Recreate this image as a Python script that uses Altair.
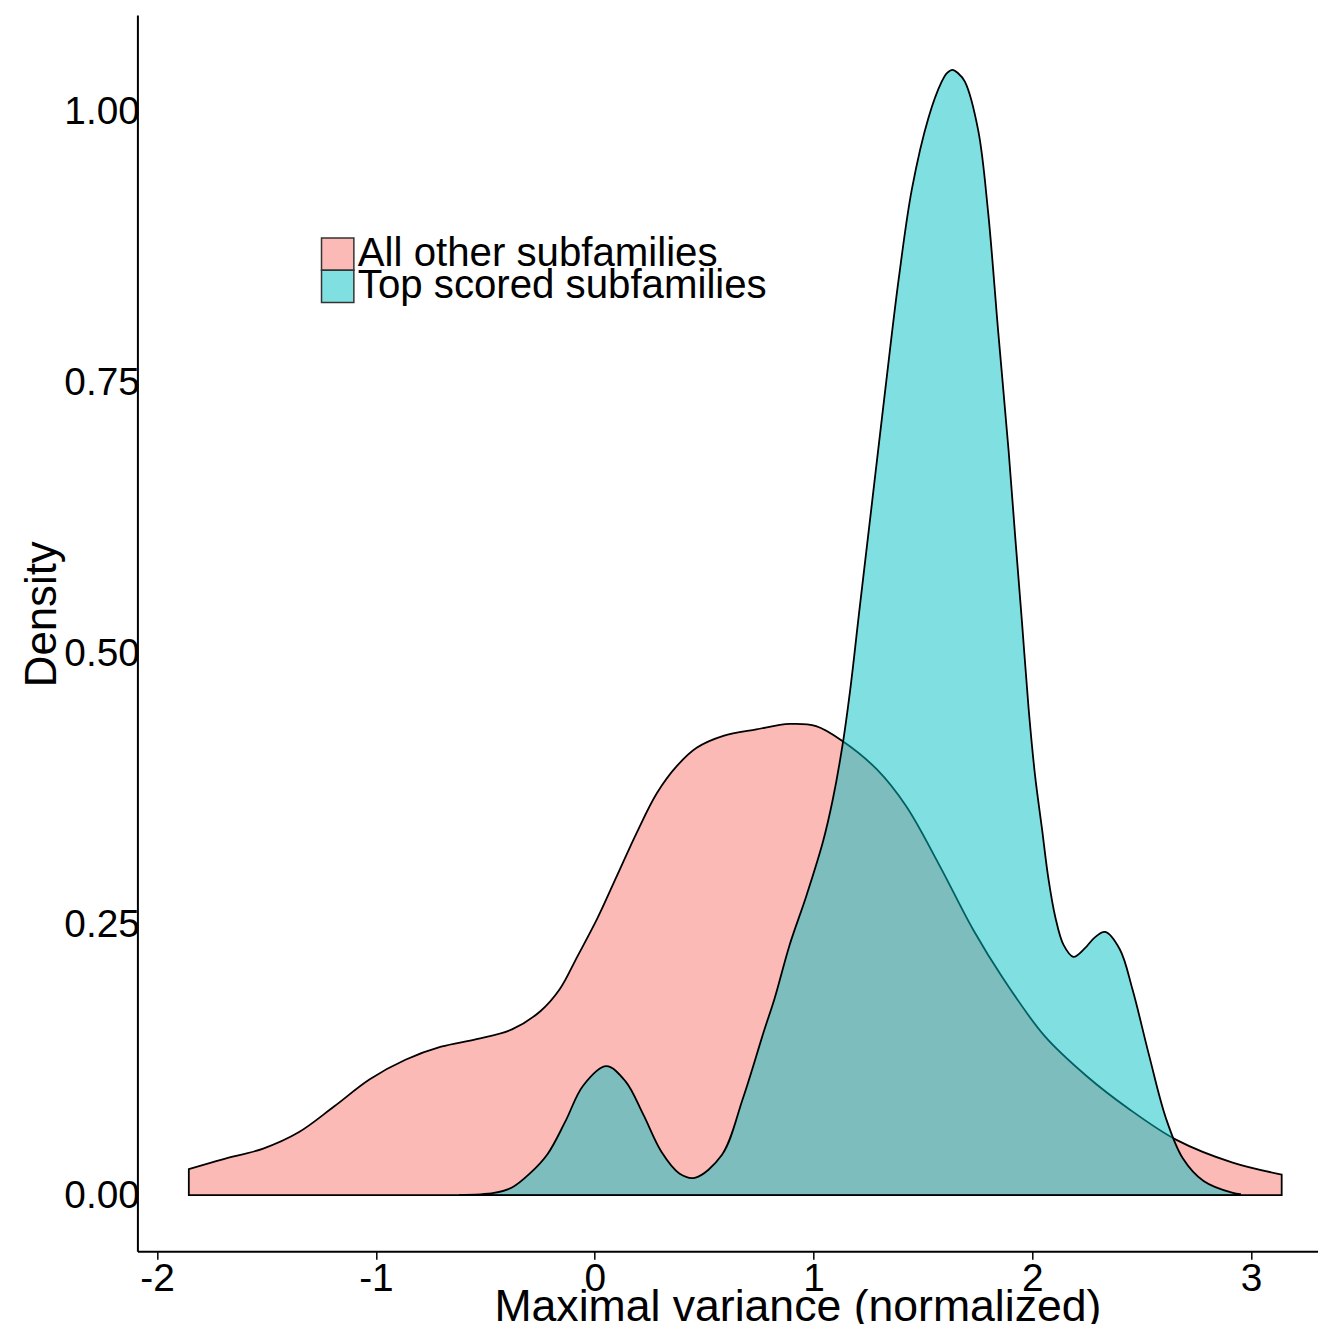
import altair as alt
import pandas as pd

# Density curve of "All other subfamilies"
pink_x = [-1.855, -1.70, -1.515, -1.353, -1.19, -1.028, -0.865, -0.702, -0.54, -0.378,
          -0.247, -0.16, -0.08, 0.011, 0.102, 0.193, 0.284, 0.375, 0.466, 0.588,
          0.739, 0.891, 1.012, 1.134, 1.29, 1.424, 1.577, 1.73, 1.864, 2.056,
          2.248, 2.439, 2.659, 2.916, 3.14]
pink_y = [0.024, 0.033, 0.043, 0.058, 0.082, 0.107, 0.125, 0.137, 0.144, 0.153,
          0.170, 0.190, 0.220, 0.255, 0.295, 0.335, 0.371, 0.396, 0.413, 0.424,
          0.430, 0.435, 0.433, 0.419, 0.393, 0.359, 0.304, 0.245, 0.201, 0.147,
          0.110, 0.080, 0.051, 0.030, 0.019]

# Density curve of "Top scored subfamilies"
cyan_x = [-0.62, -0.46, -0.378, -0.296, -0.215, -0.134, -0.053, 0.053, 0.141, 0.223,
          0.305, 0.387, 0.457, 0.581, 0.677, 0.773, 0.823, 0.891, 0.967, 1.043,
          1.088, 1.134, 1.17, 1.207, 1.268, 1.329, 1.389, 1.45, 1.526, 1.586,
          1.61, 1.635, 1.66, 1.692, 1.753, 1.798, 1.844, 1.892, 1.922, 1.953,
          1.983, 2.013, 2.044, 2.074, 2.105, 2.143, 2.188, 2.241, 2.286, 2.333,
          2.4, 2.458, 2.534, 2.611, 2.688, 2.783, 2.917, 2.95]
cyan_y = [0.0, 0.002, 0.007, 0.020, 0.038, 0.068, 0.101, 0.119, 0.105, 0.074,
          0.040, 0.020, 0.016, 0.037, 0.089, 0.151, 0.182, 0.231, 0.276, 0.326,
          0.365, 0.417, 0.470, 0.535, 0.640, 0.745, 0.845, 0.929, 0.995, 1.028,
          1.036, 1.039, 1.036, 1.028, 0.983, 0.908, 0.798, 0.687, 0.608, 0.529,
          0.450, 0.387, 0.339, 0.292, 0.257, 0.231, 0.220, 0.228, 0.238, 0.243,
          0.227, 0.190, 0.129, 0.071, 0.034, 0.013, 0.002, 0.001]

groups = ["All other subfamilies", "Top scored subfamilies"]
colors = ["#F8766D", "#00BFC4"]
legend_colors = ["#FBBAB6", "#80DFE1"]   # the two fills at 50 % over white

x_ticks = [-2, -1, 0, 1, 2, 3]
y_ticks = [0.0, 0.25, 0.5, 0.75, 1.0]

df_pink = pd.DataFrame({"x": pink_x, "density": pink_y, "group": groups[0]})
df_cyan = pd.DataFrame({"x": cyan_x, "density": cyan_y, "group": groups[1]})

FONT = "Liberation Sans"

x_enc = alt.X(
    "x:Q",
    scale=alt.Scale(domain=[-2.09, 3.306], nice=False, zero=False),
    axis=alt.Axis(
        title="Maximal variance (normalized)",
        values=x_ticks,
        labelExpr="'' + datum.value",
        grid=False,
        domainColor="black", domainWidth=2,
        tickColor="black", tickWidth=1.5, tickSize=8,
        labelFontSize=39, labelColor="black", labelPadding=0,
        labelFont=FONT,
        titleFontSize=44.8, titleFont=FONT, titleFontWeight="normal", titleColor="black",
        titleX=663, titleY=70, titleBaseline="alphabetic", titleAlign="center",
    ),
)
y_enc = alt.Y(
    "density:Q",
    stack=None,
    scale=alt.Scale(domain=[-0.0519, 1.0896], nice=False, zero=False),
    axis=alt.Axis(
        title="Density",
        values=y_ticks,
        format=".2f",
        grid=False,
        domainColor="black", domainWidth=2,
        ticks=False,
        labelFontSize=39, labelColor="black", labelPadding=-2,
        labelFont=FONT,
        titleFontSize=44, titleFont=FONT, titleFontWeight="normal", titleColor="black",
        titleX=-82, titleY=601.5, titleBaseline="alphabetic", titleAlign="center",
        titleAngle=270,
    ),
)

mark_kw = dict(stroke="black", strokeWidth=1.8, fillOpacity=0.5, interpolate="catmull-rom")
color_enc = alt.Color("group:N", scale=alt.Scale(domain=groups, range=colors), legend=None)

pink = alt.Chart(df_pink).mark_area(**mark_kw).encode(x=x_enc, y=y_enc, color=color_enc)
cyan = alt.Chart(df_cyan).mark_area(**mark_kw).encode(x=x_enc, y=y_enc, color=color_enc)


def legend_key(i, y_pos):
    """A legend entry only (no visible marks): key shows the fill as it looks on white."""
    return (
        alt.Chart(pd.DataFrame({"group": [groups[i]]}))
        .transform_filter("false")
        .mark_square(stroke="#333333", strokeWidth=1.5, opacity=1)
        .encode(
            fill=alt.Fill(
                "group:N",
                scale=alt.Scale(domain=[groups[i]], range=[legend_colors[i]]),
                legend=alt.Legend(
                    title=None,
                    orient="none",
                    legendX=181,
                    legendY=y_pos,
                    symbolType="square",
                    symbolSize=1056,
                    symbolStrokeColor="#333333",
                    symbolStrokeWidth=1.5,
                    symbolOpacity=1,
                    labelFontSize=40.4,
                    labelFont=FONT,
                    labelColor="black",
                    labelOffset=0,
                    labelLimit=0,
                    padding=0,
                ),
            )
        )
    )


chart = (
    alt.layer(pink, cyan, legend_key(0, 220), legend_key(1, 252.5))
    .resolve_scale(color="independent", fill="independent")
    .properties(
        width=1186,
        height=1242,
        autosize=alt.AutoSizeParams(type="none"),
        padding={"left": 130, "top": 4, "right": 0, "bottom": 70},
    )
    .configure(font=FONT)
    .configure_view(stroke=None)
)

chart.save("out.html", embed_options={"renderer": "svg", "actions": False})
